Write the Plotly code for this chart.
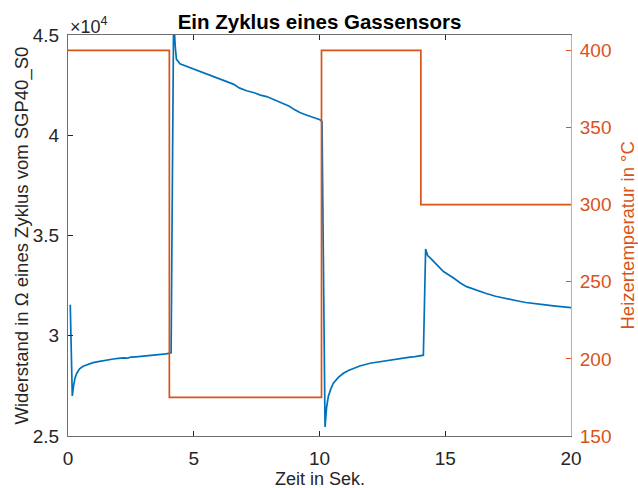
import plotly.graph_objects as go

# Sensor resistance (in units of 1e4 Ohm) over one heater cycle
zeit = [
    0.09, 0.17, 0.22, 0.28, 0.35, 0.46, 0.60, 0.80, 1.00, 1.20, 1.40, 1.60, 1.80,
    2.00, 2.20, 2.35, 2.50, 2.70, 2.90, 3.10, 3.30, 3.50, 3.70, 3.90, 4.10,
    4.20, 4.26, 4.31, 4.45, 4.70, 4.97, 5.24, 5.50, 5.90, 6.20, 6.57, 6.83, 7.10,
    7.40, 7.65, 7.90, 8.20, 8.50, 8.80, 9.00, 9.22, 9.50, 9.75, 9.90, 10.02, 10.10,
    10.22, 10.28, 10.35, 10.45, 10.55, 10.75, 10.95, 11.15, 11.35, 11.60, 12.01,
    12.30, 12.68, 13.00, 13.34, 13.60, 13.80, 14.00, 14.13,
    14.22, 14.30, 14.40, 14.67, 14.93, 15.33, 15.60, 15.85, 16.20, 16.60, 17.00,
    17.40, 17.80, 18.20, 18.50, 18.90, 19.30, 19.60, 19.80, 20.00,
]
widerstand = [
    3.155, 2.700, 2.750, 2.790, 2.813, 2.835, 2.848, 2.858, 2.866, 2.871, 2.876,
    2.880, 2.884, 2.887, 2.890, 2.888, 2.893, 2.895, 2.897, 2.901, 2.902, 2.905,
    2.907, 2.910, 2.915,
    4.600, 4.450, 4.380, 4.357, 4.345, 4.330, 4.317, 4.305, 4.288, 4.272, 4.255,
    4.235, 4.222, 4.212, 4.200, 4.193, 4.178, 4.160, 4.145, 4.128, 4.113, 4.100,
    4.090, 4.083, 4.077, 4.068,
    2.545, 2.640, 2.697, 2.735, 2.763, 2.792, 2.813, 2.827, 2.838, 2.849, 2.863,
    2.869, 2.877, 2.882, 2.888, 2.893, 2.896, 2.900, 2.903,
    3.433, 3.400, 3.388, 3.355, 3.320, 3.288, 3.263, 3.245, 3.228, 3.212, 3.197,
    3.185, 3.176, 3.166, 3.160, 3.155, 3.149, 3.146, 3.142, 3.140,
]

# Heater temperature set points (step profile)
zeit_heizer = [0.0, 4.03, 10.08, 14.03, 20.0]
temperatur = [400, 175, 400, 300, 300]

x_ticks = [0, 5, 10, 15, 20]
y_ticks = [2.5, 3.0, 3.5, 4.0, 4.5]
y_ticktext = ["2.5", "3", "3.5", "4", "4.5"]
y2_ticks = [150, 200, 250, 300, 350, 400]

BLUE = "#0072BD"
ORANGE = "#D95319"
AXIS = "#262626"
FONT = "Liberation Sans, Arial, sans-serif"

W, H = 638, 488
M_L, M_R, M_T, M_B = 68, 67, 35, 52
PLOT_W = W - M_L - M_R


def px_to_paper_x(px):
    return (px - M_L) / PLOT_W


fig = go.Figure()
fig.add_trace(go.Scatter(
    x=zeit, y=widerstand, mode="lines",
    line=dict(color=BLUE, width=1.7), showlegend=False,
))
fig.add_trace(go.Scatter(
    x=zeit_heizer, y=temperatur, mode="lines", line_shape="hv",
    line=dict(color=ORANGE, width=1.7), yaxis="y2", showlegend=False,
))

fig.update_layout(
    width=W, height=H,
    margin=dict(l=M_L, r=M_R, t=M_T, b=M_B, autoexpand=False),
    paper_bgcolor="white", plot_bgcolor="white",
    font=dict(family=FONT, size=19, color=AXIS),
    title=dict(
        text="<b>Ein Zyklus eines Gassensors</b>",
        x=0.5, xref="paper", xanchor="center",
        y=1 - 22 / H, yref="container", yanchor="middle",
        font=dict(family=FONT, size=20.5, color="black"),
    ),
    xaxis=dict(
        range=[0, 20], tickvals=x_ticks, ticks="inside", ticklen=5,
        tickcolor=AXIS, showline=True, linecolor="#6e6e6e", linewidth=1,
        mirror="ticks", showgrid=False, zeroline=False, automargin=False,
        ticklabelstandoff=5,
    ),
    yaxis=dict(
        range=[2.5, 4.5], tickvals=y_ticks, ticktext=y_ticktext,
        ticks="inside", ticklen=5, tickcolor=AXIS, showline=True,
        linecolor="#6e6e6e", linewidth=1, showgrid=False, zeroline=False,
        automargin=False, ticklabelstandoff=4,
    ),
    yaxis2=dict(
        overlaying="y", side="right", range=[150, 410], tickvals=y2_ticks,
        ticks="inside", ticklen=5, tickcolor=ORANGE, showline=True,
        linecolor="rgba(217,83,25,0.55)", linewidth=1, showgrid=False,
        zeroline=False, automargin=False, tickfont=dict(color=ORANGE),
        ticklabelstandoff=4,
    ),
    annotations=[
        # axis exponent
        dict(text="×10<sup>4</sup>", x=0, xref="paper", xanchor="left",
             y=1, yref="paper", yanchor="bottom", showarrow=False,
             font=dict(family=FONT, size=18, color=AXIS), yshift=-4),
        # x-axis title
        dict(text="Zeit in Sek.", x=0.5, xref="paper", xanchor="center",
             y=0, yref="paper", yanchor="top", yshift=-31, showarrow=False,
             font=dict(family=FONT, size=18, color=AXIS)),
        # left y-axis title
        dict(text="Widerstand in Ω eines Zyklus vom SGP40_S0", textangle=-90,
             x=px_to_paper_x(21), xref="paper", xanchor="center",
             y=0.5, yref="paper", yanchor="middle", showarrow=False,
             font=dict(family=FONT, size=18.5, color=AXIS)),
        # right y-axis title
        dict(text="Heizertemperatur in °C", textangle=-90,
             x=px_to_paper_x(627), xref="paper", xanchor="center",
             y=0.5, yref="paper", yanchor="middle", showarrow=False,
             font=dict(family=FONT, size=18.5, color=ORANGE)),
    ],
)

fig.write_html("out.html")
